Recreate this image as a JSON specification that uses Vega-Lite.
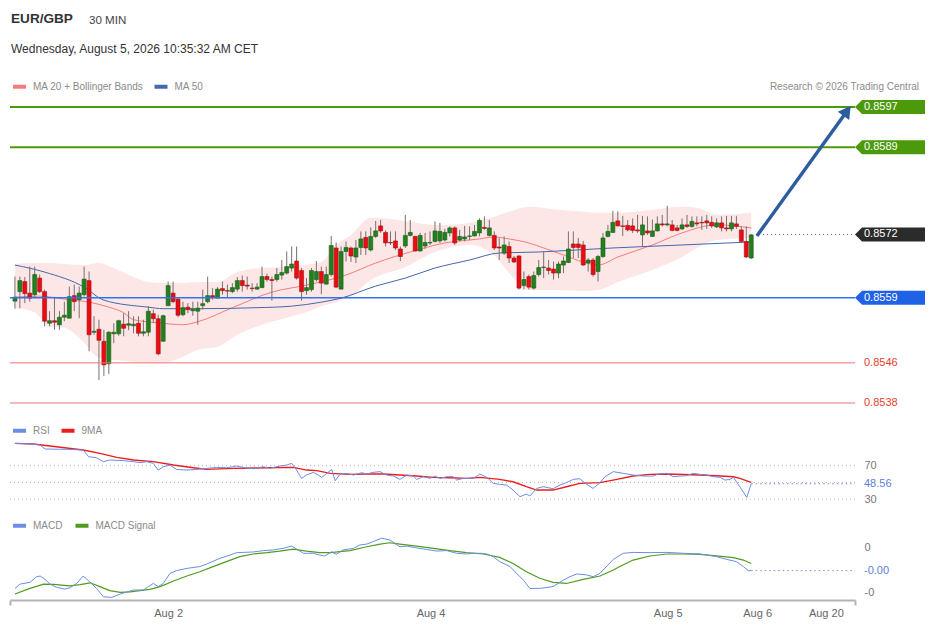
{
  "$schema": "https://vega.github.io/schema/vega-lite/v6.json",
  "background": "white",
  "padding": {"left": 9, "top": 11, "right": 0, "bottom": 4},
  "config": {
    "font": "Liberation Sans",
    "view": {"stroke": null},
    "axis": {"labelFont": "Liberation Sans"},
    "legend": {"labelFont": "Liberation Sans"},
    "title": {"font": "Liberation Sans", "subtitleFont": "Liberation Sans"}
  },
  "title": {"text": "30 MIN", "anchor": "start", "fontSize": 11.6, "fontWeight": "normal", "color": "#444", "dx": 80, "dy": 14.5, "offset": 0},
  "datasets": {
    "candles": [
      {"i":0,"o":0.85583,"h":0.85632,"l":0.85568,"c":0.85591},
      {"i":1,"o":0.85602,"h":0.85632,"l":0.85569,"c":0.85624},
      {"i":2,"o":0.85622,"h":0.85631,"l":0.85579,"c":0.85598},
      {"i":3,"o":0.85599,"h":0.85652,"l":0.85582,"c":0.85589},
      {"i":4,"o":0.85596,"h":0.85652,"l":0.85589,"c":0.85636},
      {"i":5,"o":0.85629,"h":0.85636,"l":0.85599,"c":0.85602},
      {"i":6,"o":0.85602,"h":0.85606,"l":0.85533,"c":0.85543},
      {"i":7,"o":0.85539,"h":0.85563,"l":0.85533,"c":0.85544},
      {"i":8,"o":0.85544,"h":0.85592,"l":0.85526,"c":0.85541},
      {"i":9,"o":0.85536,"h":0.85563,"l":0.85526,"c":0.85551},
      {"i":10,"o":0.85551,"h":0.85582,"l":0.85543,"c":0.85555},
      {"i":11,"o":0.85549,"h":0.85612,"l":0.85549,"c":0.85592},
      {"i":12,"o":0.85594,"h":0.85616,"l":0.85563,"c":0.85582},
      {"i":13,"o":0.85586,"h":0.85612,"l":0.85549,"c":0.85599},
      {"i":14,"o":0.85596,"h":0.85652,"l":0.85592,"c":0.85627},
      {"i":15,"o":0.85624,"h":0.85642,"l":0.85483,"c":0.85516},
      {"i":16,"o":0.85521,"h":0.85553,"l":0.85516,"c":0.85523},
      {"i":17,"o":0.85527,"h":0.85546,"l":0.85426,"c":0.85505},
      {"i":18,"o":0.85503,"h":0.85526,"l":0.85434,"c":0.85456},
      {"i":19,"o":0.85458,"h":0.85523,"l":0.85438,"c":0.85521},
      {"i":20,"o":0.85518,"h":0.85539,"l":0.85499,"c":0.85521},
      {"i":21,"o":0.85518,"h":0.85546,"l":0.85514,"c":0.85544},
      {"i":22,"o":0.85537,"h":0.85559,"l":0.85513,"c":0.85529},
      {"i":23,"o":0.85535,"h":0.85563,"l":0.85525,"c":0.85538},
      {"i":24,"o":0.85534,"h":0.85553,"l":0.85519,"c":0.85537},
      {"i":25,"o":0.85539,"h":0.85553,"l":0.85513,"c":0.85519},
      {"i":26,"o":0.85519,"h":0.85546,"l":0.85513,"c":0.85522},
      {"i":27,"o":0.85521,"h":0.85573,"l":0.85513,"c":0.85563},
      {"i":28,"o":0.85558,"h":0.85566,"l":0.85539,"c":0.85548},
      {"i":29,"o":0.85548,"h":0.85556,"l":0.85475,"c":0.85478},
      {"i":30,"o":0.85503,"h":0.85556,"l":0.85503,"c":0.85554},
      {"i":31,"o":0.85574,"h":0.85622,"l":0.85574,"c":0.85614},
      {"i":32,"o":0.85599,"h":0.85622,"l":0.85579,"c":0.85582},
      {"i":33,"o":0.85587,"h":0.85589,"l":0.85551,"c":0.85555},
      {"i":34,"o":0.85556,"h":0.85582,"l":0.85553,"c":0.8557},
      {"i":35,"o":0.85571,"h":0.85579,"l":0.85559,"c":0.85566},
      {"i":36,"o":0.85564,"h":0.85582,"l":0.85554,"c":0.85567},
      {"i":37,"o":0.85563,"h":0.85582,"l":0.85536,"c":0.85569},
      {"i":38,"o":0.85574,"h":0.85606,"l":0.85566,"c":0.85578},
      {"i":39,"o":0.85582,"h":0.85632,"l":0.85579,"c":0.85594},
      {"i":40,"o":0.85594,"h":0.85609,"l":0.85586,"c":0.8559},
      {"i":41,"o":0.85589,"h":0.85611,"l":0.85588,"c":0.85607},
      {"i":42,"o":0.85608,"h":0.85622,"l":0.85596,"c":0.85604},
      {"i":43,"o":0.85604,"h":0.85616,"l":0.8559,"c":0.85603},
      {"i":44,"o":0.85602,"h":0.85619,"l":0.85599,"c":0.8561},
      {"i":45,"o":0.85607,"h":0.85631,"l":0.85602,"c":0.85624},
      {"i":46,"o":0.85624,"h":0.85634,"l":0.85602,"c":0.85614},
      {"i":47,"o":0.85615,"h":0.85632,"l":0.85606,"c":0.85613},
      {"i":48,"o":0.85609,"h":0.85619,"l":0.85602,"c":0.85608},
      {"i":49,"o":0.85607,"h":0.85619,"l":0.85606,"c":0.85611},
      {"i":50,"o":0.8561,"h":0.85652,"l":0.85609,"c":0.85632},
      {"i":51,"o":0.85632,"h":0.85638,"l":0.85622,"c":0.85626},
      {"i":52,"o":0.85626,"h":0.85632,"l":0.85584,"c":0.85624},
      {"i":53,"o":0.85626,"h":0.85649,"l":0.85622,"c":0.85636},
      {"i":54,"o":0.85635,"h":0.85665,"l":0.85626,"c":0.8564},
      {"i":55,"o":0.85639,"h":0.85682,"l":0.85636,"c":0.85652},
      {"i":56,"o":0.85649,"h":0.85692,"l":0.85642,"c":0.85657},
      {"i":57,"o":0.85663,"h":0.85692,"l":0.85626,"c":0.85629},
      {"i":58,"o":0.85644,"h":0.85649,"l":0.85584,"c":0.85602},
      {"i":59,"o":0.85604,"h":0.85629,"l":0.85596,"c":0.8561},
      {"i":60,"o":0.85606,"h":0.85649,"l":0.85602,"c":0.85644},
      {"i":61,"o":0.85626,"h":0.85663,"l":0.85622,"c":0.85642},
      {"i":62,"o":0.85642,"h":0.85652,"l":0.85597,"c":0.85619},
      {"i":63,"o":0.85617,"h":0.85652,"l":0.85616,"c":0.85636},
      {"i":64,"o":0.85636,"h":0.85713,"l":0.85632,"c":0.85694},
      {"i":65,"o":0.85689,"h":0.857,"l":0.85609,"c":0.85611},
      {"i":66,"o":0.85607,"h":0.85692,"l":0.85607,"c":0.85682},
      {"i":67,"o":0.85682,"h":0.85702,"l":0.85662,"c":0.8569},
      {"i":68,"o":0.85689,"h":0.85692,"l":0.85661,"c":0.85673},
      {"i":69,"o":0.85671,"h":0.85705,"l":0.85659,"c":0.85689},
      {"i":70,"o":0.8569,"h":0.85722,"l":0.85675,"c":0.85707},
      {"i":71,"o":0.8571,"h":0.85722,"l":0.85675,"c":0.85689},
      {"i":72,"o":0.85685,"h":0.8573,"l":0.85682,"c":0.85712},
      {"i":73,"o":0.85712,"h":0.85743,"l":0.85709,"c":0.85723},
      {"i":74,"o":0.85733,"h":0.85745,"l":0.85719,"c":0.85723},
      {"i":75,"o":0.8572,"h":0.85724,"l":0.85692,"c":0.85699},
      {"i":76,"o":0.857,"h":0.85722,"l":0.85695,"c":0.85699},
      {"i":77,"o":0.85703,"h":0.85722,"l":0.85685,"c":0.85689},
      {"i":78,"o":0.85687,"h":0.85692,"l":0.85663,"c":0.85672},
      {"i":79,"o":0.85693,"h":0.85755,"l":0.85689,"c":0.85714},
      {"i":80,"o":0.85714,"h":0.85745,"l":0.85712,"c":0.8572},
      {"i":81,"o":0.85712,"h":0.85713,"l":0.85682,"c":0.85683},
      {"i":82,"o":0.85683,"h":0.85719,"l":0.85682,"c":0.85714},
      {"i":83,"o":0.85693,"h":0.85719,"l":0.85687,"c":0.857},
      {"i":84,"o":0.85699,"h":0.85722,"l":0.85695,"c":0.857},
      {"i":85,"o":0.85702,"h":0.85742,"l":0.857,"c":0.85723},
      {"i":86,"o":0.85703,"h":0.85739,"l":0.85699,"c":0.85722},
      {"i":87,"o":0.85705,"h":0.85727,"l":0.85702,"c":0.8572},
      {"i":88,"o":0.85719,"h":0.85732,"l":0.85712,"c":0.85729},
      {"i":89,"o":0.85729,"h":0.85732,"l":0.85695,"c":0.85699},
      {"i":90,"o":0.85705,"h":0.85725,"l":0.85702,"c":0.85712},
      {"i":91,"o":0.85707,"h":0.85733,"l":0.85702,"c":0.85711},
      {"i":92,"o":0.85712,"h":0.85732,"l":0.85705,"c":0.85713},
      {"i":93,"o":0.85713,"h":0.85735,"l":0.85712,"c":0.85722},
      {"i":94,"o":0.85719,"h":0.85748,"l":0.85712,"c":0.85744},
      {"i":95,"o":0.8573,"h":0.85752,"l":0.85725,"c":0.85728},
      {"i":96,"o":0.85714,"h":0.85745,"l":0.85712,"c":0.85729},
      {"i":97,"o":0.85714,"h":0.85722,"l":0.85685,"c":0.85689},
      {"i":98,"o":0.85691,"h":0.85709,"l":0.85665,"c":0.85689},
      {"i":99,"o":0.85679,"h":0.85712,"l":0.85675,"c":0.85695},
      {"i":100,"o":0.85692,"h":0.85702,"l":0.85659,"c":0.85669},
      {"i":101,"o":0.85669,"h":0.85673,"l":0.85659,"c":0.85661},
      {"i":102,"o":0.85673,"h":0.85675,"l":0.85606,"c":0.85609},
      {"i":103,"o":0.85614,"h":0.85642,"l":0.85606,"c":0.85626},
      {"i":104,"o":0.85632,"h":0.85636,"l":0.85606,"c":0.85611},
      {"i":105,"o":0.85609,"h":0.85642,"l":0.85606,"c":0.85634},
      {"i":106,"o":0.85636,"h":0.85665,"l":0.85632,"c":0.8565},
      {"i":107,"o":0.8565,"h":0.85682,"l":0.85629,"c":0.85651},
      {"i":108,"o":0.85649,"h":0.85665,"l":0.85636,"c":0.85644},
      {"i":109,"o":0.85647,"h":0.85662,"l":0.85626,"c":0.85639},
      {"i":110,"o":0.85639,"h":0.85662,"l":0.85629,"c":0.85657},
      {"i":111,"o":0.85655,"h":0.85672,"l":0.85639,"c":0.85663},
      {"i":112,"o":0.8566,"h":0.85722,"l":0.85659,"c":0.85687},
      {"i":113,"o":0.85697,"h":0.85722,"l":0.85669,"c":0.8569},
      {"i":114,"o":0.85697,"h":0.85709,"l":0.85669,"c":0.8569},
      {"i":115,"o":0.85695,"h":0.85703,"l":0.85653,"c":0.85655},
      {"i":116,"o":0.85659,"h":0.85669,"l":0.85642,"c":0.85665},
      {"i":117,"o":0.85665,"h":0.85669,"l":0.85632,"c":0.85636},
      {"i":118,"o":0.85642,"h":0.85675,"l":0.85622,"c":0.85672},
      {"i":119,"o":0.85672,"h":0.85719,"l":0.85669,"c":0.85709},
      {"i":120,"o":0.85712,"h":0.85735,"l":0.8571,"c":0.85722},
      {"i":121,"o":0.8572,"h":0.85763,"l":0.85719,"c":0.8574},
      {"i":122,"o":0.85743,"h":0.85762,"l":0.85732,"c":0.85733},
      {"i":123,"o":0.85733,"h":0.85753,"l":0.85713,"c":0.85732},
      {"i":124,"o":0.85734,"h":0.85745,"l":0.85722,"c":0.85725},
      {"i":125,"o":0.85733,"h":0.85748,"l":0.85719,"c":0.85724},
      {"i":126,"o":0.85725,"h":0.85755,"l":0.85719,"c":0.85723},
      {"i":127,"o":0.85715,"h":0.85753,"l":0.85692,"c":0.85735},
      {"i":128,"o":0.85723,"h":0.85752,"l":0.85715,"c":0.85719},
      {"i":129,"o":0.85712,"h":0.85746,"l":0.85711,"c":0.85723},
      {"i":130,"o":0.85723,"h":0.85752,"l":0.85722,"c":0.85737},
      {"i":131,"o":0.85737,"h":0.85755,"l":0.85732,"c":0.85735},
      {"i":132,"o":0.85735,"h":0.85773,"l":0.85732,"c":0.85737},
      {"i":133,"o":0.85735,"h":0.85745,"l":0.85722,"c":0.85724},
      {"i":134,"o":0.85729,"h":0.85735,"l":0.85722,"c":0.85724},
      {"i":135,"o":0.85727,"h":0.85748,"l":0.85725,"c":0.85735},
      {"i":136,"o":0.85735,"h":0.85755,"l":0.85729,"c":0.85732},
      {"i":137,"o":0.85732,"h":0.85752,"l":0.85729,"c":0.85742},
      {"i":138,"o":0.85739,"h":0.85752,"l":0.85732,"c":0.85737},
      {"i":139,"o":0.8574,"h":0.85752,"l":0.85725,"c":0.85739},
      {"i":140,"o":0.85743,"h":0.85755,"l":0.85727,"c":0.85739},
      {"i":141,"o":0.8574,"h":0.85752,"l":0.85729,"c":0.85733},
      {"i":142,"o":0.85731,"h":0.85748,"l":0.85729,"c":0.85739},
      {"i":143,"o":0.85739,"h":0.85752,"l":0.85722,"c":0.85729},
      {"i":144,"o":0.85729,"h":0.85753,"l":0.85722,"c":0.85727},
      {"i":145,"o":0.85727,"h":0.85753,"l":0.85722,"c":0.85739},
      {"i":146,"o":0.85737,"h":0.85753,"l":0.85727,"c":0.85732},
      {"i":147,"o":0.85725,"h":0.85732,"l":0.85699,"c":0.85702},
      {"i":148,"o":0.85702,"h":0.85732,"l":0.85669,"c":0.85671},
      {"i":149,"o":0.85669,"h":0.85717,"l":0.85667,"c":0.85715}
    ],
    "bb": [
      {"i":0,"up":0.85657,"lo":0.85569},
      {"i":4,"up":0.85659,"lo":0.85561},
      {"i":7,"up":0.85659,"lo":0.85532},
      {"i":10,"up":0.85657,"lo":0.8553},
      {"i":14,"up":0.85655,"lo":0.855},
      {"i":17,"up":0.85659,"lo":0.8547},
      {"i":20,"up":0.85649,"lo":0.85466},
      {"i":24,"up":0.85631,"lo":0.85462},
      {"i":27,"up":0.85621,"lo":0.8546},
      {"i":30,"up":0.85619,"lo":0.8546},
      {"i":34,"up":0.85619,"lo":0.85472},
      {"i":37,"up":0.85621,"lo":0.85486},
      {"i":41,"up":0.85621,"lo":0.85492},
      {"i":45,"up":0.85641,"lo":0.85516},
      {"i":50,"up":0.85649,"lo":0.85536},
      {"i":55,"up":0.85651,"lo":0.8555},
      {"i":60,"up":0.85657,"lo":0.85565},
      {"i":62,"up":0.85661,"lo":0.85573},
      {"i":65,"up":0.85695,"lo":0.85581},
      {"i":68,"up":0.85715,"lo":0.85593},
      {"i":72,"up":0.85749,"lo":0.85625},
      {"i":79,"up":0.85743,"lo":0.85651},
      {"i":85,"up":0.85735,"lo":0.85681},
      {"i":92,"up":0.85739,"lo":0.85695},
      {"i":97,"up":0.85751,"lo":0.85675},
      {"i":100,"up":0.85761,"lo":0.85639},
      {"i":104,"up":0.85771,"lo":0.85605},
      {"i":110,"up":0.85765,"lo":0.85605},
      {"i":115,"up":0.85761,"lo":0.85603},
      {"i":118,"up":0.85759,"lo":0.85605},
      {"i":122,"up":0.85759,"lo":0.85621},
      {"i":129,"up":0.85765,"lo":0.85645},
      {"i":135,"up":0.85771,"lo":0.85671},
      {"i":138,"up":0.85769,"lo":0.85689},
      {"i":142,"up":0.85755,"lo":0.85705},
      {"i":149,"up":0.85759,"lo":0.85709}
    ],
    "ma20": [
      {"i":0,"v":0.85591},{"i":5,"v":0.85593},{"i":10,"v":0.85587},{"i":15,"v":0.85581},
      {"i":19,"v":0.85571},{"i":22,"v":0.8556},{"i":24,"v":0.85546},{"i":29,"v":0.8554},
      {"i":34,"v":0.85536},{"i":37,"v":0.85542},{"i":44,"v":0.8557},{"i":52,"v":0.85601},
      {"i":59,"v":0.85615},{"i":67,"v":0.85635},{"i":73,"v":0.85659},{"i":80,"v":0.85681},
      {"i":87,"v":0.85699},{"i":94,"v":0.85707},{"i":97,"v":0.85711},{"i":100,"v":0.85707},
      {"i":104,"v":0.85699},{"i":107,"v":0.85689},{"i":111,"v":0.85675},{"i":115,"v":0.85661},
      {"i":118,"v":0.85655},{"i":122,"v":0.85671},{"i":129,"v":0.85695},{"i":135,"v":0.85719},
      {"i":142,"v":0.85735},{"i":149,"v":0.85729}
    ],
    "ma50": [
      {"i":0,"v":0.85655},{"i":6,"v":0.85641},{"i":14,"v":0.85611},{"i":18,"v":0.85585},
      {"i":27,"v":0.85571},{"i":30,"v":0.85568},{"i":37,"v":0.85568},{"i":49,"v":0.8557},
      {"i":56,"v":0.85573},{"i":62,"v":0.85581},{"i":66,"v":0.85589},{"i":73,"v":0.85613},
      {"i":79,"v":0.85629},{"i":85,"v":0.85649},{"i":92,"v":0.85665},{"i":98,"v":0.85679},
      {"i":106,"v":0.85681},{"i":110,"v":0.85683},{"i":121,"v":0.85689},{"i":135,"v":0.85695},
      {"i":149,"v":0.85701}
    ],
    "levels": [
      {"p":0.8597,"k":"res"},
      {"p":0.8589,"k":"res"},
      {"p":0.85716,"k":"last"},
      {"p":0.8559,"k":"piv"},
      {"p":0.8546,"k":"sup"},
      {"p":0.8538,"k":"sup"}
    ],
    "arrow": [
      {"i":150.15,"p":0.85713},
      {"i":168.4,"p":0.85962}
    ],
    "rsi": [
      {"i":0,"v":96.6},{"i":3.7,"v":95.8},{"i":5.1,"v":94.6},{"i":6.1,"v":89.9},{"i":10.5,"v":89.5},
      {"i":13.8,"v":88.7},{"i":14.9,"v":80.7},{"i":16.5,"v":79.5},{"i":17.9,"v":74.8},{"i":19.2,"v":76.8},
      {"i":22,"v":76},{"i":24,"v":74.8},{"i":25.3,"v":73.6},{"i":26.7,"v":74.8},{"i":28,"v":72.8},
      {"i":29,"v":64.8},{"i":30,"v":68.8},{"i":31.4,"v":70.8},{"i":32.7,"v":65.6},{"i":34.8,"v":64.8},
      {"i":36.8,"v":65.6},{"i":38.8,"v":66.8},{"i":40.8,"v":68},{"i":42.8,"v":67.6},{"i":44.9,"v":69.6},
      {"i":46.2,"v":68},{"i":48.2,"v":66.4},{"i":50.3,"v":68.8},{"i":51.6,"v":66.8},{"i":53.6,"v":69.6},
      {"i":55,"v":70.8},{"i":56,"v":72.8},{"i":57,"v":64.8},{"i":58,"v":54.9},{"i":59,"v":58.9},
      {"i":60.4,"v":62.1},{"i":61.4,"v":58.9},{"i":62.1,"v":56.1},{"i":62.7,"v":58.9},{"i":64.1,"v":65.6},
      {"i":64.8,"v":52.1},{"i":65.8,"v":60.1},{"i":67.1,"v":60.9},{"i":68.5,"v":58.9},{"i":70.2,"v":61.7},
      {"i":71.2,"v":60.1},{"i":72.5,"v":62.1},{"i":73.9,"v":62.9},{"i":75.2,"v":58.9},{"i":76.6,"v":57.7},
      {"i":77.9,"v":53.7},{"i":79.3,"v":58.9},{"i":80.6,"v":57.7},{"i":81.3,"v":53.7},{"i":82.6,"v":56.9},
      {"i":84,"v":54.9},{"i":85,"v":57.7},{"i":86,"v":54.9},{"i":87.4,"v":56.9},{"i":88.7,"v":56.9},
      {"i":89.4,"v":52.9},{"i":90.7,"v":54.9},{"i":92.8,"v":54.9},{"i":94.1,"v":60.1},{"i":95.5,"v":56.1},
      {"i":96.8,"v":49},{"i":98.1,"v":47.8},{"i":99.5,"v":47},{"i":100.8,"v":41},{"i":102.2,"v":33.1},
      {"i":103.5,"v":36.3},{"i":104.2,"v":33.9},{"i":105.6,"v":43},{"i":106.9,"v":45},{"i":108.9,"v":42.6},
      {"i":110.3,"v":47},{"i":111.6,"v":49.8},{"i":113,"v":53.7},{"i":114.3,"v":54.5},{"i":115.7,"v":47.8},
      {"i":117,"v":43},{"i":118.4,"v":49.8},{"i":119.4,"v":56.9},{"i":121.1,"v":62.9},{"i":123.1,"v":60.9},
      {"i":125.1,"v":58.9},{"i":127.2,"v":57.7},{"i":129.2,"v":57.7},{"i":130.2,"v":60.1},{"i":131.9,"v":60.9},
      {"i":133.2,"v":56.9},{"i":134.6,"v":57.7},{"i":135.9,"v":58.1},{"i":137.3,"v":60.9},{"i":138.6,"v":59.7},
      {"i":140,"v":58.9},{"i":141.3,"v":56.9},{"i":142.7,"v":56.1},{"i":143.7,"v":52.9},{"i":144.7,"v":53.7},
      {"i":145.4,"v":56.1},{"i":146.7,"v":45},{"i":148.1,"v":32.3},{"i":149,"v":48.56}
    ],
    "rsima": [
      {"i":0,"v":96.6},{"i":3.7,"v":95.8},{"i":7.1,"v":93.4},{"i":13.8,"v":88.7},{"i":17.2,"v":84.7},
      {"i":20.6,"v":79.9},{"i":24,"v":76.8},{"i":28,"v":74.8},{"i":32.1,"v":70.8},{"i":36.1,"v":67.6},
      {"i":38.8,"v":65.6},{"i":44.2,"v":66.8},{"i":51,"v":67.6},{"i":56.3,"v":68},{"i":59,"v":64.8},
      {"i":61.1,"v":64.1},{"i":63.8,"v":60.9},{"i":67.8,"v":59.7},{"i":71.2,"v":60.1},{"i":74.5,"v":60.1},
      {"i":77.9,"v":58.9},{"i":81.3,"v":57.7},{"i":84.7,"v":56.1},{"i":88,"v":55.7},{"i":91.4,"v":54.9},
      {"i":94.1,"v":56.1},{"i":98.1,"v":53.7},{"i":100.8,"v":50.9},{"i":103.5,"v":45},{"i":105.6,"v":41},
      {"i":108.9,"v":41},{"i":111.6,"v":45},{"i":114.3,"v":49},{"i":118.4,"v":49.8},{"i":121.8,"v":53.7},
      {"i":125.1,"v":57.7},{"i":128.5,"v":59.7},{"i":131.9,"v":60.1},{"i":138.6,"v":58.9},{"i":142,"v":58.1},
      {"i":145.4,"v":56.9},{"i":146.7,"v":54.9},{"i":149,"v":50.2}
    ],
    "rsigrid": [{"v":30},{"v":50},{"v":70}],
    "lastrsi": [{"i":149,"v":48.56,"lbl":"48.56"}],
    "macd": [
      {"i":0,"v":-0.000084},{"i":1,"v":-0.000065},{"i":3.05,"v":-0.000057},{"i":4.4,"v":-0.000032},
      {"i":5.1,"v":-0.000029},{"i":6.1,"v":-0.000044},{"i":7.1,"v":-0.000065},{"i":8.4,"v":-0.000079},
      {"i":10.1,"v":-0.000087},{"i":11.1,"v":-0.000081},{"i":12.5,"v":-0.000062},{"i":13.8,"v":-0.000029},
      {"i":14.9,"v":-0.00005},{"i":16.5,"v":-0.000084},{"i":17.9,"v":-0.000121},{"i":19.6,"v":-0.000124},
      {"i":21.3,"v":-0.000109},{"i":22.6,"v":-0.0001},{"i":24,"v":-0.000091},{"i":26,"v":-0.000091},
      {"i":27,"v":-0.000076},{"i":28,"v":-0.000062},{"i":29,"v":-0.000076},{"i":30,"v":-0.000062},
      {"i":31.4,"v":-0.000017},{"i":32.7,"v":-0.000005},{"i":34.8,"v":0.000005},{"i":37.4,"v":0.000013},
      {"i":38.8,"v":0.000024},{"i":41.5,"v":0.00005},{"i":43.5,"v":0.000064},{"i":44.9,"v":0.000075},
      {"i":46.2,"v":0.000076},{"i":48.2,"v":0.000078},{"i":50.3,"v":0.000084},{"i":52.3,"v":0.000087},
      {"i":54.3,"v":0.000094},{"i":56,"v":0.000104},{"i":57.3,"v":0.000087},{"i":58.4,"v":0.000072},
      {"i":60.4,"v":0.000072},{"i":61.7,"v":0.000064},{"i":62.7,"v":0.00006},{"i":64.1,"v":0.000079},
      {"i":65,"v":0.000067},{"i":66.4,"v":0.000087},{"i":68.5,"v":0.000094},{"i":69.8,"v":0.000109},
      {"i":71.2,"v":0.000113},{"i":72.5,"v":0.000124},{"i":74.2,"v":0.000139},{"i":75.9,"v":0.000131},
      {"i":77.9,"v":0.000101},{"i":79.3,"v":0.000104},{"i":81,"v":0.000097},{"i":83.3,"v":0.000089},
      {"i":85.3,"v":0.000082},{"i":87.4,"v":0.000084},{"i":89.4,"v":0.000072},{"i":91.4,"v":0.000069},
      {"i":92.8,"v":0.000072},{"i":94.4,"v":0.000072},{"i":95.5,"v":0.000069},{"i":96.8,"v":0.000057},
      {"i":98.1,"v":0.000035},{"i":100.2,"v":0.000013},{"i":101.5,"v":-0.000017},{"i":102.9,"v":-0.000047},
      {"i":104.2,"v":-0.000084},{"i":106.2,"v":-0.000084},{"i":108.9,"v":-0.000076},{"i":111,"v":-0.000047},
      {"i":112.3,"v":-0.000032},{"i":113.7,"v":-0.00002},{"i":115.7,"v":-0.000024},{"i":117,"v":-0.000032},
      {"i":118.4,"v":-0.000017},{"i":119.7,"v":0.000013},{"i":121.1,"v":0.000045},{"i":123.1,"v":0.000072},
      {"i":125.1,"v":0.000076},{"i":128.5,"v":0.000075},{"i":131.9,"v":0.000076},{"i":135.3,"v":0.000072},
      {"i":138.6,"v":0.000069},{"i":142,"v":0.000057},{"i":144,"v":0.000045},{"i":146,"v":0.000035},
      {"i":147.4,"v":0.000013},{"i":148.4,"v":-0.000005},{"i":149,"v":-0.000005}
    ],
    "signal": [
      {"i":0,"v":-0.000109},{"i":3.05,"v":-0.000084},{"i":5.8,"v":-0.000065},{"i":7.8,"v":-0.000066},
      {"i":11.1,"v":-0.000073},{"i":13.2,"v":-0.000067},{"i":15.2,"v":-0.000059},{"i":17.2,"v":-0.000076},
      {"i":19.2,"v":-0.000094},{"i":21.3,"v":-0.000102},{"i":23.3,"v":-0.000099},{"i":25.3,"v":-0.000094},
      {"i":27.3,"v":-0.000088},{"i":29.4,"v":-0.000076},{"i":32.1,"v":-0.000051},{"i":34.8,"v":-0.000029},
      {"i":37.4,"v":-0.00001},{"i":40.1,"v":0.000013},{"i":42.8,"v":0.000035},{"i":45.5,"v":0.000057},
      {"i":48.2,"v":0.000069},{"i":51,"v":0.000075},{"i":53.6,"v":0.000082},{"i":56.3,"v":0.000091},
      {"i":59,"v":0.000082},{"i":61.7,"v":0.000075},{"i":63.8,"v":0.000075},{"i":67.8,"v":0.000084},
      {"i":71.2,"v":0.000101},{"i":73.9,"v":0.000113},{"i":75.9,"v":0.000119},{"i":77.9,"v":0.000113},
      {"i":81.3,"v":0.000104},{"i":84.7,"v":0.000094},{"i":88,"v":0.000084},{"i":91.4,"v":0.000075},
      {"i":94.8,"v":0.000069},{"i":98.1,"v":0.000054},{"i":100.8,"v":0.000027},{"i":103.5,"v":-0.00001},
      {"i":106.2,"v":-0.000039},{"i":108.9,"v":-0.000057},{"i":111.6,"v":-0.000062},{"i":115,"v":-0.000044},
      {"i":118.4,"v":-0.000029},{"i":121.1,"v":-0.000002},{"i":122.4,"v":0.000013},{"i":125.1,"v":0.000042},
      {"i":128.5,"v":0.00006},{"i":131.9,"v":0.000069},{"i":135.3,"v":0.000069},{"i":138.6,"v":0.000067},
      {"i":142,"v":0.000061},{"i":145.4,"v":0.000053},{"i":147.4,"v":0.000042},{"i":149,"v":0.000027}
    ],
    "lastmacd": [{"i":149,"v":-0.000005,"lbl":"-0.00"}]
  },
  "vconcat": [
    {
      "title": {"text": "EUR/GBP", "subtitle": "Wednesday, August 5, 2026 10:35:32 AM CET", "anchor": "start", "fontSize": 13.6, "fontWeight": "bold", "color": "#333", "subtitleFontSize": 12, "subtitleColor": "#333", "subtitlePadding": 18, "offset": 23.5, "dx": 2},
      "spacing": 25,
      "bounds": "flush",
      "resolve": {"scale": {"color": "independent"}, "legend": {"color": "independent"}},
      "vconcat": [
        {
          "width": 845,
          "height": 320,
          "title": {"text": "Research © 2026 Trading Central", "anchor": "end", "fontSize": 10, "fontWeight": "normal", "color": "#8c8c8c", "offset": 4, "dx": -6, "dy": 17.5},
          "layer": [
            {
              "data": {"name": "bb"},
              "mark": {"type": "area", "color": "#fde6e6", "interpolate": "monotone"},
              "encoding": {
                "x": {"field": "i", "type": "quantitative", "scale": {"domain": [-1, 170], "nice": false, "zero": false, "padding": 0}, "axis": null},
                "y": {"field": "up", "type": "quantitative", "scale": {"domain": [0.853561, 0.859939], "nice": false, "zero": false}, "axis": null},
                "y2": {"field": "lo"}
              }
            },
            {
              "data": {"name": "ma20"},
              "mark": {"type": "line", "strokeWidth": 1, "interpolate": "monotone"},
              "encoding": {
                "x": {"field": "i", "type": "quantitative"},
                "y": {"field": "v", "type": "quantitative"},
                "color": {
                  "datum": "MA 20 + Bollinger Bands",
                  "type": "nominal",
                  "scale": {"domain": ["MA 20 + Bollinger Bands", "MA 50"], "range": ["#f47c7c", "#4468ad"]},
                  "legend": {"orient": "none", "legendX": 1, "legendY": -17, "direction": "horizontal", "title": null, "symbolType": "M-1,0H1", "symbolSize": 169, "symbolStrokeWidth": 4, "labelFontSize": 10, "labelColor": "#8a8a8a", "labelOffset": 5, "columnPadding": 2.5, "padding": 0, "encode": {"symbols": {"update": {"strokeWidth": {"value": 4}}}}}
                }
              }
            },
            {
              "data": {"name": "ma50"},
              "mark": {"type": "line", "strokeWidth": 1, "interpolate": "monotone"},
              "encoding": {
                "x": {"field": "i", "type": "quantitative"},
                "y": {"field": "v", "type": "quantitative"},
                "color": {"datum": "MA 50", "type": "nominal"}
              }
            },
            {
              "data": {"name": "candles"},
              "mark": {"type": "rule", "color": "#7a7070", "strokeWidth": 1},
              "encoding": {
                "x": {"field": "i", "type": "quantitative"},
                "y": {"field": "l", "type": "quantitative"},
                "y2": {"field": "h"}
              }
            },
            {
              "data": {"name": "candles"},
              "mark": {"type": "bar", "size": 4, "strokeWidth": 0.6},
              "encoding": {
                "x": {"field": "i", "type": "quantitative"},
                "y": {"field": "o", "type": "quantitative"},
                "y2": {"field": "c"},
                "fill": {"condition": {"test": "datum.c >= datum.o", "value": "#23801f"}, "value": "#ec0b12"},
                "stroke": {"condition": {"test": "datum.c >= datum.o", "value": "#175c15"}, "value": "#9c1212"}
              }
            },
            {
              "data": {"name": "levels"},
              "transform": [{"filter": "datum.k != 'last'"}],
              "mark": {"type": "rule"},
              "encoding": {
                "x": {"datum": -1},
                "x2": {"datum": 170},
                "y": {"field": "p", "type": "quantitative"},
                "color": {"condition": [{"test": "datum.k == 'res'", "value": "#4c9a0c"}, {"test": "datum.k == 'piv'", "value": "#2f74ee"}], "value": "#f47272"},
                "strokeWidth": {"condition": [{"test": "datum.k == 'res'", "value": 2}, {"test": "datum.k == 'piv'", "value": 1.5}], "value": 1}
              }
            },
            {
              "data": {"name": "levels"},
              "transform": [{"filter": "datum.k == 'last'"}],
              "mark": {"type": "rule", "color": "#555", "strokeWidth": 1, "strokeDash": [1, 3]},
              "encoding": {
                "x": {"datum": 150.6},
                "x2": {"datum": 170},
                "y": {"field": "p", "type": "quantitative"}
              }
            },
            {
              "data": {"name": "arrow"},
              "mark": {"type": "line", "color": "#2e5d9f", "strokeWidth": 3.5},
              "encoding": {
                "x": {"field": "i", "type": "quantitative"},
                "y": {"field": "p", "type": "quantitative"}
              }
            },
            {
              "data": {"name": "arrow"},
              "transform": [{"filter": "datum.i > 160"}],
              "mark": {"type": "point", "shape": "triangle-up", "size": 200, "angle": 36, "filled": true, "color": "#2e5d9f", "opacity": 1},
              "encoding": {
                "x": {"field": "i", "type": "quantitative"},
                "y": {"field": "p", "type": "quantitative"}
              }
            },
            {
              "data": {"name": "levels"},
              "transform": [{"filter": "datum.k != 'sup'"}],
              "mark": {"type": "point", "shape": "M0,0L0.2,-0.2L2,-0.2L2,0.2L0.2,0.2Z", "size": 4900, "filled": true, "opacity": 1, "strokeWidth": 0},
              "encoding": {
                "x": {"datum": 170},
                "y": {"field": "p", "type": "quantitative"},
                "color": {"condition": [{"test": "datum.k == 'res'", "value": "#4c9a0c"}, {"test": "datum.k == 'piv'", "value": "#1f62e6"}], "value": "#2b2b2b"}
              }
            },
            {
              "data": {"name": "levels"},
              "mark": {"type": "text", "align": "left", "baseline": "middle", "dx": 9, "fontSize": 11},
              "encoding": {
                "x": {"datum": 170},
                "y": {"field": "p", "type": "quantitative"},
                "text": {"field": "p", "type": "quantitative", "format": ".4f"},
                "color": {"condition": {"test": "datum.k == 'sup'", "value": "#e8412f"}, "value": "white"}
              }
            }
          ]
        },
        {
          "width": 845,
          "height": 67,
          "layer": [
            {
              "data": {"name": "rsigrid"},
              "mark": {"type": "rule", "color": "#b8b8b8", "strokeWidth": 1, "strokeDash": [1, 3]},
              "encoding": {
                "x": {"datum": -1, "type": "quantitative", "scale": {"domain": [-1, 170], "nice": false, "zero": false}, "axis": null},
                "x2": {"datum": 170},
                "y": {"field": "v", "type": "quantitative", "scale": {"domain": [20.83, 100.6], "nice": false, "zero": false}, "axis": {"orient": "right", "values": [30, 70], "domain": false, "ticks": false, "grid": false, "labelPadding": 9, "labelFontSize": 11, "labelColor": "#777", "title": null}}
              }
            },
            {
              "data": {"name": "rsima"},
              "mark": {"type": "line", "strokeWidth": 1.4},
              "encoding": {
                "x": {"field": "i", "type": "quantitative"},
                "y": {"field": "v", "type": "quantitative"},
                "color": {
                  "datum": "9MA",
                  "type": "nominal",
                  "scale": {"domain": ["RSI", "9MA"], "range": ["#6a8de6", "#ee1d1d"]},
                  "legend": {"orient": "none", "legendX": 1, "legendY": -18, "direction": "horizontal", "title": null, "symbolType": "M-1,0H1", "symbolSize": 169, "symbolStrokeWidth": 4, "labelFontSize": 10, "labelColor": "#8a8a8a", "labelOffset": 5, "columnPadding": 3.5, "padding": 0, "encode": {"symbols": {"update": {"strokeWidth": {"value": 4}}}}}
                }
              }
            },
            {
              "data": {"name": "rsi"},
              "mark": {"type": "line", "strokeWidth": 1},
              "encoding": {
                "x": {"field": "i", "type": "quantitative"},
                "y": {"field": "v", "type": "quantitative"},
                "color": {"datum": "RSI", "type": "nominal"}
              }
            },
            {
              "data": {"name": "lastrsi"},
              "mark": {"type": "rule", "color": "#6a8de6", "strokeWidth": 1, "strokeDash": [1.5, 3]},
              "encoding": {
                "x": {"field": "i", "type": "quantitative"},
                "x2": {"datum": 170},
                "y": {"field": "v", "type": "quantitative"}
              }
            },
            {
              "data": {"name": "lastrsi"},
              "mark": {"type": "text", "align": "left", "baseline": "middle", "dx": 9, "fontSize": 11, "color": "#5b7fe0"},
              "encoding": {
                "x": {"datum": 170},
                "y": {"field": "v", "type": "quantitative"},
                "text": {"field": "lbl"}
              }
            }
          ]
        },
        {
          "width": 845,
          "height": 68,
          "layer": [
            {
              "data": {"name": "signal"},
              "mark": {"type": "line", "strokeWidth": 1.2},
              "encoding": {
                "x": {
                  "field": "i",
                  "type": "quantitative",
                  "scale": {"domain": [-1, 170], "nice": false, "zero": false},
                  "axis": {
                    "title": null,
                    "values": [-1, 31, 84.1, 132.1, 150.2, 164.1, 170],
                    "labelExpr": "datum.value > 20 && datum.value < 40 ? 'Aug 2' : datum.value > 80 && datum.value < 90 ? 'Aug 4' : datum.value > 130 && datum.value < 140 ? 'Aug 5' : datum.value > 145 && datum.value < 155 ? 'Aug 6' : datum.value > 160 && datum.value < 168 ? 'Aug 20' : ''",
                    "grid": false,
                    "domainColor": "#b3b3b3",
                    "domainWidth": 2,
                    "tickColor": "#b3b3b3",
                    "tickWidth": 2,
                    "tickSize": 5,
                    "tickOpacity": {"condition": {"test": "datum.value < 0 || datum.value > 169", "value": 1}, "value": 0},
                    "labelPadding": 2,
                    "labelFontSize": 11,
                    "labelColor": "#666",
                    "labelFlush": false,
                    "labelOverlap": false,
                    "labelBound": false
                  }
                },
                "y": {"field": "v", "type": "quantitative", "scale": {"domain": [-0.0001355, 0.0001667], "nice": false, "zero": false}, "axis": {"orient": "right", "values": [0.0001, -0.0001], "labelExpr": "datum.value > 0 ? '0' : '-0'", "domain": false, "ticks": false, "grid": false, "labelPadding": 9, "labelFontSize": 11, "labelColor": "#777", "title": null}},
                "color": {
                  "datum": "MACD Signal",
                  "type": "nominal",
                  "scale": {"domain": ["MACD", "MACD Signal"], "range": ["#6a8de6", "#4f9c1e"]},
                  "legend": {"orient": "none", "legendX": 1, "legendY": -15, "direction": "horizontal", "title": null, "symbolType": "M-1,0H1", "symbolSize": 169, "symbolStrokeWidth": 4, "labelFontSize": 10, "labelColor": "#8a8a8a", "labelOffset": 5, "columnPadding": 4.5, "padding": 0, "encode": {"symbols": {"update": {"strokeWidth": {"value": 4}}}}}
                }
              }
            },
            {
              "data": {"name": "macd"},
              "mark": {"type": "line", "strokeWidth": 1},
              "encoding": {
                "x": {"field": "i", "type": "quantitative"},
                "y": {"field": "v", "type": "quantitative"},
                "color": {"datum": "MACD", "type": "nominal"}
              }
            },
            {
              "data": {"name": "lastmacd"},
              "mark": {"type": "rule", "color": "#6a8de6", "strokeWidth": 1, "strokeDash": [1.5, 3]},
              "encoding": {
                "x": {"field": "i", "type": "quantitative"},
                "x2": {"datum": 170},
                "y": {"field": "v", "type": "quantitative"}
              }
            },
            {
              "data": {"name": "lastmacd"},
              "mark": {"type": "text", "align": "left", "baseline": "middle", "dx": 9, "fontSize": 11, "color": "#5b7fe0"},
              "encoding": {
                "x": {"datum": 170},
                "y": {"field": "v", "type": "quantitative"},
                "text": {"field": "lbl"}
              }
            }
          ]
        }
      ]
    }
  ]
}
